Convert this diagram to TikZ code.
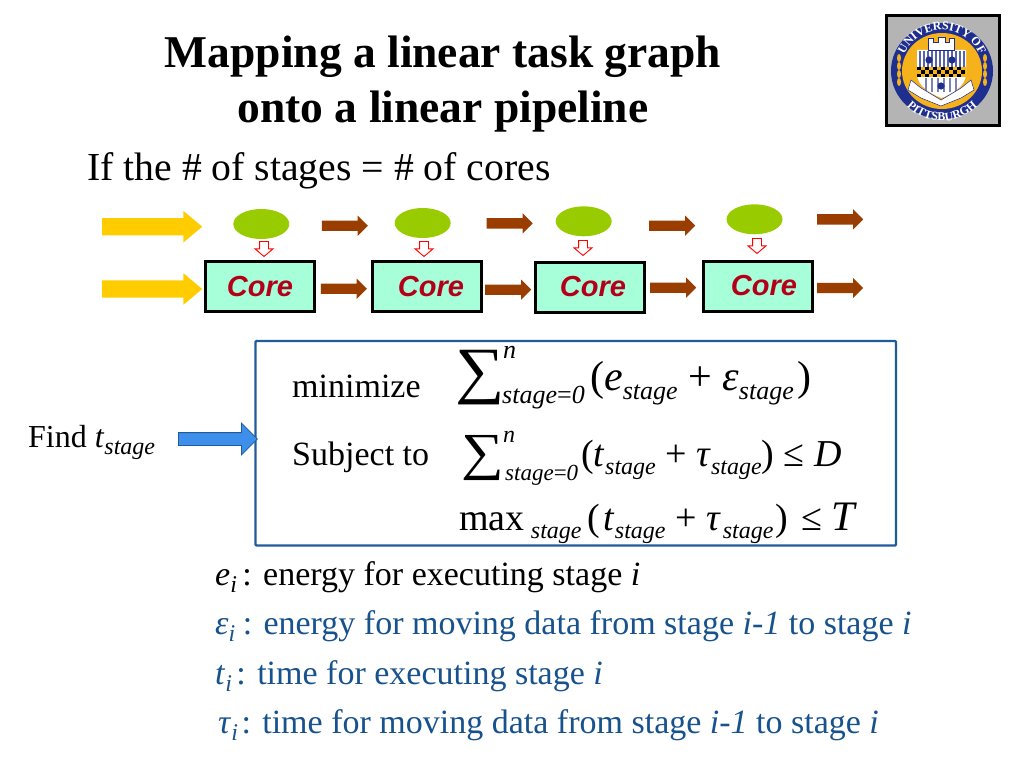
\documentclass[tikz,border=0pt]{standalone}
\usepackage{fontspec}
\setmainfont{Liberation Serif}
\setsansfont{Liberation Sans}
\usetikzlibrary{positioning,shapes.arrows,shapes.geometric,decorations.text}
\definecolor{SealBlue}{HTML}{1F2F8F}
\definecolor{SealGold}{HTML}{F5B21B}
\definecolor{SealGray}{HTML}{B4B4B4}
\definecolor{CoreFill}{HTML}{A6FFD9}
\definecolor{CoreRed}{HTML}{B30018}
\definecolor{TaskGreen}{HTML}{99CC00}
\definecolor{FlowBrown}{HTML}{993D00}
\definecolor{FlowYellow}{HTML}{FFCC00}
\definecolor{FindBlue}{HTML}{3D8FEA}
\definecolor{FrameBlue}{HTML}{1F5C99}
\definecolor{LegendBlue}{HTML}{17528C}
\tikzset{
  blockarrow/.style={single arrow, draw=none, inner xsep=0pt, single arrow head indent=0pt, anchor=tail},
  inputflow/.style={blockarrow, fill=FlowYellow, inner ysep=8.5pt, minimum width=31pt,
    minimum height=100pt, single arrow head extend=7pt, single arrow tip angle=80},
  stageflow/.style={blockarrow, fill=FlowBrown, inner ysep=5pt, minimum width=20pt,
    minimum height=46pt, single arrow head extend=5pt},
  assign/.style={blockarrow, shape border rotate=270, draw=red, fill=white, line width=.9pt,
    inner sep=4pt, minimum width=17pt, minimum height=15pt, single arrow head extend=4.5pt,
    single arrow tip angle=100},
  task/.style={ellipse, fill=TaskGreen, draw=none, inner sep=0pt, minimum width=56pt, minimum height=30pt},
  corebox/.style={draw=black, line width=3pt, fill=CoreFill, minimum width=109pt, minimum height=50pt,
    inner sep=0pt, text=CoreRed, font=\fontsize{29}{29}\selectfont\sffamily\bfseries\itshape},
  findarrow/.style={blockarrow, fill=FindBlue, draw=FrameBlue, line width=.8pt, inner ysep=6pt,
    minimum width=31pt, minimum height=79pt, single arrow head extend=9.5pt},
  frame/.style={draw=FrameBlue, line width=2.4pt, rounded corners=1pt},
  plain/.style={anchor=base west, inner sep=0pt, font=\fontsize{34}{34}\selectfont},
  heading/.style={anchor=base, inner sep=0pt, font=\fontsize{45.5}{45.5}\selectfont\bfseries},
  formula/.style={anchor=base west, inner sep=0pt, font=\fontsize{38}{38}\selectfont},
  bigsum/.style={anchor=base west, inner sep=0pt, font=\fontsize{63}{63}\selectfont},
  limit/.style={anchor=base west, inner sep=0pt, font=\fontsize{26}{26}\selectfont\itshape},
  legend/.style={anchor=base west, inner sep=0pt, font=\fontsize{34}{34}\selectfont, text=LegendBlue},
  seallabel/.style={decorate, decoration={text along path, text align=center,
    text={|\fontsize{12}{12}\selectfont\bfseries\color{white}|#1}}}
}
\newcommand{\lowsub}[2][24]{\raisebox{-.22em}{\fontsize{#1}{#1}\selectfont\itshape #2}}
\begin{document}
\begin{tikzpicture}[x=1pt,y=-1pt]
  \useasboundingbox (0,0) rectangle (1024,768);
  % heading
  \node[heading] (titleA) at (443,67.5) {Mapping a linear task graph};
  \node[heading] (titleB) at (443,122) {onto a linear pipeline};
  \node[plain, font=\fontsize{39.7}{39.7}\selectfont] (subtitle) at (87,180) {If the \# of stages = \# of cores};
  % seal
  \fill[black] (884.5,14) rectangle (1001,127);
  \fill[SealGray] (887.5,17) rectangle (998,124);
  \fill[SealBlue] (942,71) ellipse [x radius=51, y radius=48];
  \fill[SealGold] (942,71) ellipse [x radius=40, y radius=38];
  \path[seallabel={UNIVERSITY OF}] (901,71) arc[start angle=180, end angle=360, radius=41];
  \path[seallabel={PITTSBURGH}] (892,71) arc[start angle=180, end angle=0, radius=50];
  \foreach \leafy in {58,66,74,82} {
    \fill[SealGold] (899,\leafy) ellipse [x radius=2, y radius=4];
    \fill[SealGold] (985,\leafy) ellipse [x radius=2, y radius=4];
  }
  \fill[white] (917,50) -- (966,50) -- (966,74) .. controls (966,86) and (952,94) .. (941.5,98) .. controls (931,94) and (917,86) .. (917,74) -- cycle;
  \foreach \stripex in {919,923,...,963} \fill[SealBlue!75] (\stripex,51) rectangle ++(1.6,16);
  \foreach \stripex in {925,931,...,958} \fill[SealBlue!60] (\stripex,78) rectangle ++(1.6,14);
  \fill[SealGold] (917,67) rectangle (966,77);
  \foreach \checkx in {917,925,...,960} {
    \fill[black] (\checkx,67) rectangle ++(4,3.3);
    \fill[black] (\checkx+4,70.3) rectangle ++(4,3.3);
    \fill[black] (\checkx,73.6) rectangle ++(4,3.3);
  }
  \fill[SealBlue] (929,60) circle (3.6) (952,60) circle (3.6) (941,86) circle (3.6);
  \fill[white, draw=SealBlue, line width=.5pt] (928,50) -- (928,38) -- (933,38) -- (933,42) -- (938,42) -- (938,37) -- (945,37) -- (945,42) -- (949,42) -- (949,38) -- (954,38) -- (954,50) -- cycle;
  \fill[white, draw=SealBlue, line width=.5pt] (911,80) -- (921,88) -- (941,100) -- (961,88) -- (971,80) -- (974,90) -- (961,98) -- (941,106) -- (921,98) -- (908,90) -- cycle;
  % stages
  \node[inputflow] (inputA) at (102,226.7) {};
  \node[inputflow] (inputB) at (102,289) {};
  \node[task] (taskA) at (261.3,224) {};
  \node[task] (taskB) at (422.7,223) {};
  \node[task] (taskC) at (583.7,221.3) {};
  \node[task] (taskD) at (754.5,219.3) {};
  \node[stageflow] (flowA) at (321.7,225.7) {};
  \node[stageflow] (flowB) at (486.5,223.3) {};
  \node[stageflow] (flowC) at (649,225.7) {};
  \node[stageflow] (flowD) at (817,219.3) {};
  \node[corebox] (coreA) at (260,286.5) {Core};
  \node[corebox] (coreB) at (427,286.5) {\hspace{8pt}Core};
  \node[corebox] (coreC) at (590,287) {\hspace{6pt}Core};
  \node[corebox] (coreD) at (757.5,286) {\hspace{13pt}Core};
  \node[assign] (assignA) at (264,241) {};
  \node[assign] (assignB) at (424,241) {};
  \node[assign] (assignC) at (583,240) {};
  \node[assign] (assignD) at (757,238) {};
  \node[stageflow] (flowE) at (320.7,288.7) {};
  \node[stageflow] (flowF) at (485,289.7) {};
  \node[stageflow] (flowG) at (650,287.7) {};
  \node[stageflow] (flowH) at (817,288) {};
  % optimisation
  \node[plain, font=\fontsize{32}{32}\selectfont] (find) at (28,447) {Find \textit{t}\lowsub{stage}};
  \draw[frame] (255.5,341) rectangle (896,545.5);
  \node[findarrow] (findflow) at (178,439) {};
  \node[plain] (minimize) at (292,397) {minimize};
  \node[bigsum] (sumA) at (455,391) {\scalebox{1.1}[1]{∑}};
  \node[limit] (limitA) at (502,403) {stage\textup{=}0};
  \node[limit] (topA) at (503,358) {n};
  \node[formula, font=\fontsize{42}{42}\selectfont] (costA) at (590,390) {(\textit{e}\lowsub[26]{stage}~+~\textit{ε}\lowsub[26]{stage}\hspace{4pt})};
  \node[plain] (subject) at (292,465) {Subject to};
  \node[bigsum, font=\fontsize{52}{52}\selectfont] (sumB) at (461,469) {\scalebox{1.15}[1]{∑}};
  \node[limit, font=\fontsize{23}{23}\selectfont\itshape] (limitB) at (505,480) {stage\textup{=}0};
  \node[limit, font=\fontsize{24}{24}\selectfont\itshape] (topB) at (503,442) {n};
  \node[formula] (costB) at (581,466) {(\textit{t}\lowsub{stage}~+~\textit{τ}\lowsub{stage})~≤~\textit{D}};
  \node[formula] (costC) at (459,530) {max\,\lowsub{stage}\,(\hspace{3pt}\textit{t}\lowsub{stage}~+~\textit{τ}\hspace{2pt}\lowsub{stage}\hspace{2pt})\hspace{4pt}~≤~{\fontsize{42}{42}\selectfont\textit{T}}};
  % definitions
  \node[legend, text=black] (legendA) at (215,585) {\textit{e}\lowsub{i}\hspace{-3pt} : energy for executing stage \textit{i}};
  \node[legend] (legendB) at (215,634) {\textit{ε}\lowsub{i}\hspace{-1pt} : energy for moving data from stage \textit{i-1} to stage \textit{i}};
  \node[legend] (legendC) at (215,684) {\textit{t}\lowsub{i}\hspace{-4pt} : time for executing stage \textit{i}};
  \node[legend] (legendD) at (218,733) {\textit{τ}\lowsub{i}\hspace{-5pt} : time for moving data from stage \textit{i-1} to stage \textit{i}};
\end{tikzpicture}
\end{document}
